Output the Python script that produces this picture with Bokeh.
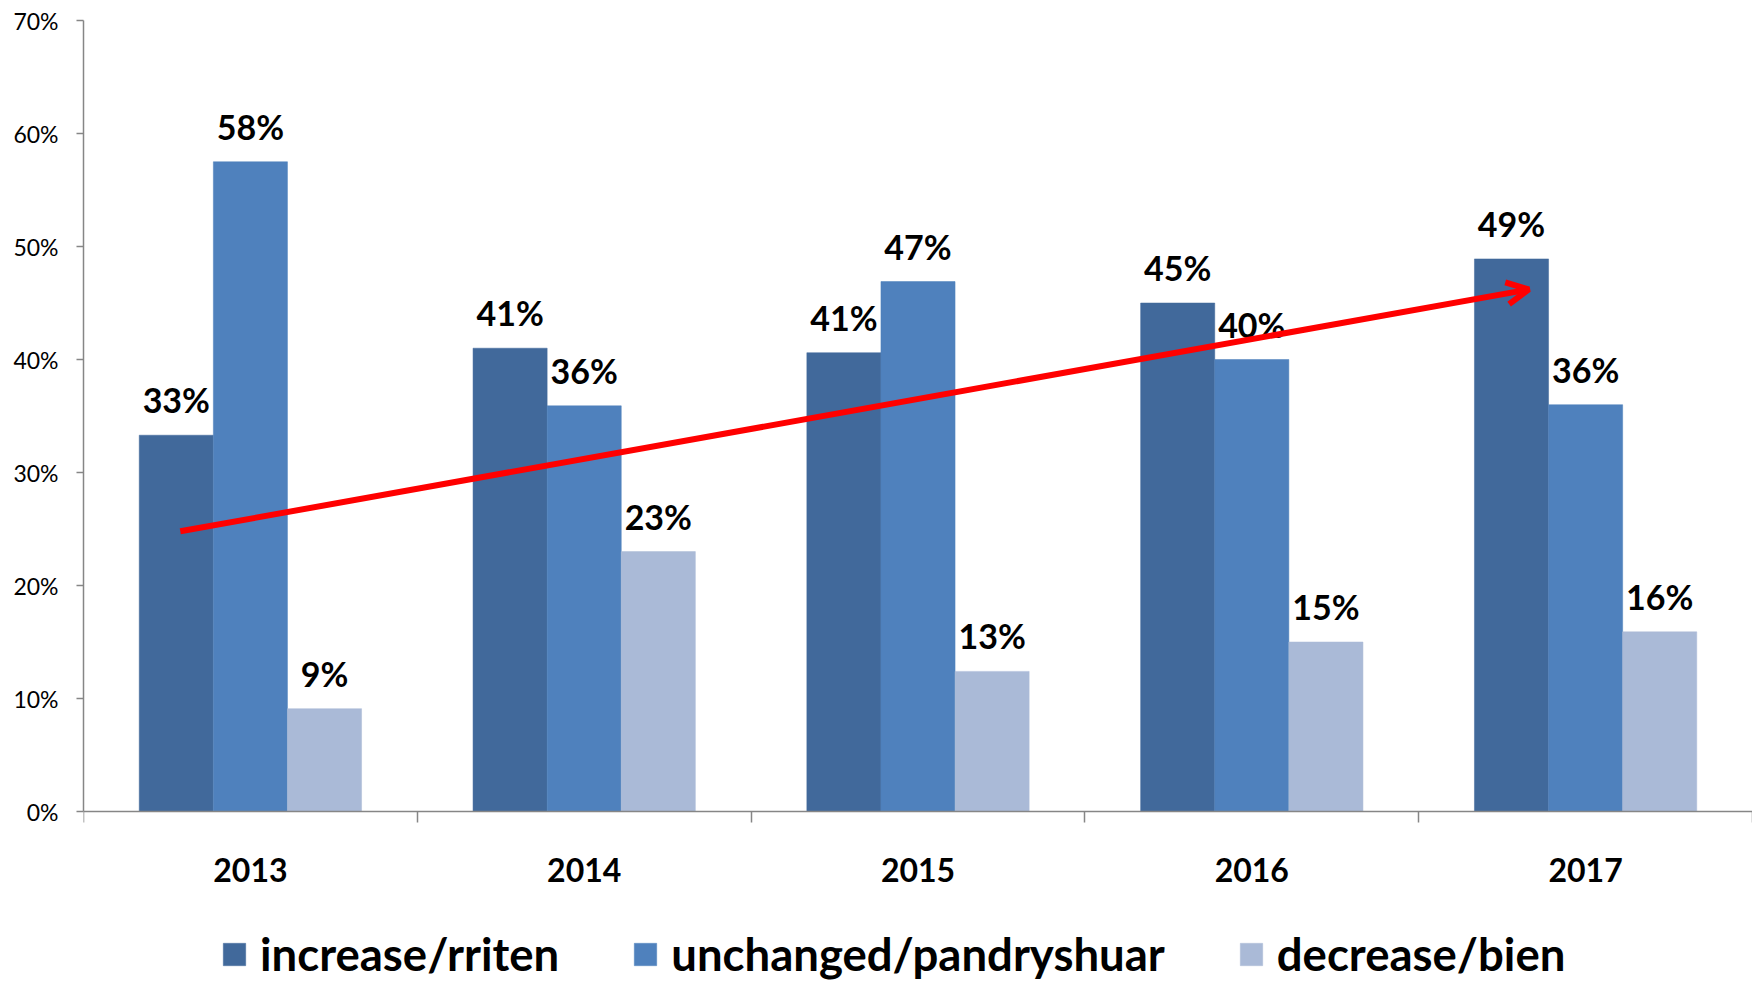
from bokeh.plotting import figure
from bokeh.models import (ColumnDataSource, Range1d, FixedTicker, PrintfTickFormatter,
                          LabelSet, Legend, LegendItem, Arrow, OpenHead)
from bokeh.core.properties import value
from bokeh.transform import dodge
from bokeh.embed import file_html
from bokeh.resources import INLINE

# ---- data ----
years = ["2013", "2014", "2015", "2016", "2017"]
increase = [33.3, 41.0, 40.6, 45.0, 48.9]
unchanged = [57.5, 35.9, 46.9, 40.0, 36.0]
decrease = [9.1, 23.0, 12.4, 15.0, 15.9]
increase_labels = ["33%", "41%", "41%", "45%", "49%"]
unchanged_labels = ["58%", "36%", "47%", "40%", "36%"]
decrease_labels = ["9%", "23%", "13%", "15%", "16%"]
series_names = ["increase/rriten", "unchanged/pandryshuar", "decrease/bien"]
y_ticks = [0, 10, 20, 30, 40, 50, 60, 70]
trend_x = [0.29, 4.33]   # arrow start / end, in category units
trend_y = [24.8, 46.2]   # percent

# ---- layout / styles ----
colors = ["#41699B", "#4F81BD", "#AABAD7"]
FONT = "Lato"
BAR_W = 0.222
W, H = 1752, 981
TOP, ZERO_Y = 20, 811          # pixel rows of 70% and 0%
Y_MAX = 70
px_per_unit = (ZERO_Y - TOP) / Y_MAX
y_min = -(H - ZERO_Y) / px_per_unit   # frame extends below 0 to hold the legend

centers = [i + 0.5 for i in range(len(years))]
source = ColumnDataSource(dict(
    x=centers, increase=increase, unchanged=unchanged, decrease=decrease,
    increase_labels=increase_labels, unchanged_labels=unchanged_labels,
    decrease_labels=decrease_labels,
))

p = figure(width=W, height=H, output_backend="svg", toolbar_location=None,
           x_range=Range1d(0, len(years)), y_range=Range1d(y_min, Y_MAX),
           min_border_left=83, min_border_right=0, min_border_top=TOP, min_border_bottom=0)
p.outline_line_color = None
p.xgrid.visible = False
p.ygrid.visible = False
p.background_fill_color = "white"
p.border_fill_color = "white"

renderers = []
for name, off, col, lab in zip(["increase", "unchanged", "decrease"], [-BAR_W, 0, BAR_W], colors,
                                ["increase_labels", "unchanged_labels", "decrease_labels"]):
    r = p.vbar(x=dodge("x", off), top=name, bottom=0, width=BAR_W, source=source,
               fill_color=col, line_color=col, line_width=0.5)
    renderers.append(r)
    ls = LabelSet(x=dodge("x", off), y=name, text=lab, source=source, y_offset=22,
                  text_align="center", text_baseline="alphabetic",
                  text_font=value(FONT), text_font_style="bold", text_font_size="34px",
                  text_color="black")
    p.add_layout(ls)

# trend arrow
p.add_layout(Arrow(end=OpenHead(size=22, line_color="#FF0000", line_width=6),
                   x_start=trend_x[0], y_start=trend_y[0], x_end=trend_x[1], y_end=trend_y[1],
                   line_color="#FF0000", line_width=6))

# axes
ax = p.xaxis[0]
ax.fixed_location = 0
ax.ticker = FixedTicker(ticks=centers, minor_ticks=list(range(len(years) + 1)))
ax.major_label_overrides = {c: y for c, y in zip(centers, years)}
ax.major_tick_line_color = None
ax.major_tick_out = 0
ax.major_tick_in = 0
ax.minor_tick_line_color = "#868686"
ax.minor_tick_line_width = 1.5
ax.minor_tick_out = 11
ax.minor_tick_in = 0
ax.axis_line_color = "#868686"
ax.axis_line_width = 1.5
ax.major_label_standoff = 35
ax.major_label_text_font = FONT
ax.major_label_text_font_style = "bold"
ax.major_label_text_font_size = "32px"
ax.major_label_text_color = "black"

ay = p.yaxis[0]
ay.bounds = (0, Y_MAX)
ay.ticker = FixedTicker(ticks=y_ticks)
ay.formatter = PrintfTickFormatter(format="%d%%")
ay.major_tick_line_color = "#868686"
ay.major_tick_line_width = 1.5
ay.major_tick_out = 7
ay.major_tick_in = 0
ay.minor_tick_line_color = None
ay.axis_line_color = "#868686"
ay.axis_line_width = 1.5
ay.major_label_standoff = 18
ay.major_label_text_font = FONT
ay.major_label_text_font_size = "23px"
ay.major_label_text_color = "black"

legend = Legend(items=[LegendItem(label=n, renderers=[r]) for n, r in zip(series_names, renderers)],
                orientation="horizontal", location=(137, 0),
                glyph_width=28, glyph_height=28, label_standoff=12, spacing=72,
                padding=0, margin=0, border_line_color=None, background_fill_alpha=0,
                label_text_font=FONT, label_text_font_style="bold", label_text_font_size="45.5px",
                label_text_color="black")
p.add_layout(legend, "center")

open("out.html", "w").write(file_html(p, INLINE))
